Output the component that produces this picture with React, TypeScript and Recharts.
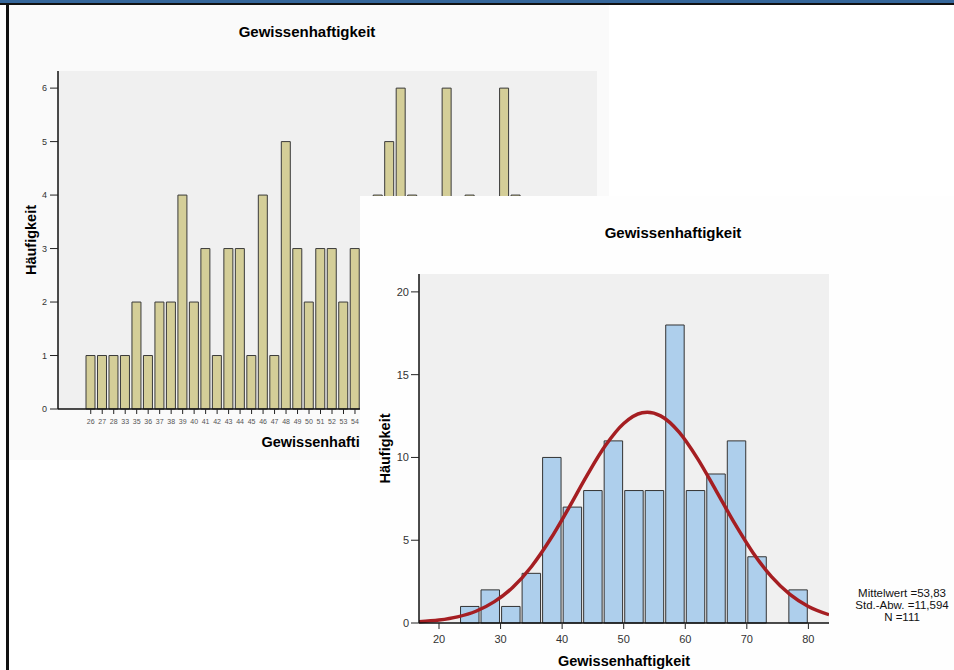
import {
  Bar,
  BarChart,
  CartesianGrid,
  ComposedChart,
  Line,
  XAxis,
  YAxis,
} from 'recharts'

const FONT = 'Arial, "Liberation Sans", sans-serif'
const TITLE = 'Gewissenhaftigkeit'
const Y_LABEL = 'Häufigkeit'

// Balkendiagramm (hinten): Häufigkeit je Wert
const scoreValues = [
  '26', '27', '28', '33', '35', '36', '37', '38', '39', '40', '41', '42', '43', '44', '45',
  '46', '47', '48', '49', '50', '51', '52', '53', '54', '55', '56', '57', '58', '59', '60',
  '61', '62', '63', '64', '65', '66', '67', '68', '69', '71', '72', '78', '80',
]
const scoreCounts = [
  1, 1, 1, 1, 2, 1, 2, 2, 4, 2, 3, 1, 3, 3, 1,
  4, 1, 5, 3, 2, 3, 3, 2, 3, 1, 4, 5, 6, 4, 3,
  1, 6, 1, 4, 2, 3, 6, 4, 1, 2, 2, 1, 1,
]
const countTicks = [0, 1, 2, 3, 4, 5, 6]

// Histogramm (vorne)
const binCenters = [
  25, 28.33, 31.67, 35, 38.33, 41.67, 45, 48.33, 51.67, 55, 58.33, 61.67, 65, 68.33, 71.67, 75, 78.33,
]
const binCounts = [1, 2, 1, 3, 10, 7, 8, 11, 8, 8, 18, 8, 9, 11, 4, 0, 2]
const curveX = [
  16.75, 20, 23, 26, 29, 32, 35, 38, 41, 44, 47, 50, 53, 53.83, 56, 59, 62, 65, 68, 71, 74, 77, 80, 83.35,
]
const curveY = [
  0.08, 0.18, 0.37, 0.71, 1.29, 2.16, 3.4, 5.01, 6.9, 8.89, 10.7, 12.05, 12.7, 12.73, 12.51, 11.53,
  9.93, 8.0, 6.03, 4.25, 2.8, 1.73, 1.0, 0.5,
]
const histDomain: [number, number] = [16.75, 83.35]
const histXTicks = [20, 30, 40, 50, 60, 70, 80]
const histYTicks = [0, 5, 10, 15, 20]
const statLines = ['Mittelwert =53,83', 'Std.-Abw. =11,594', 'N =111']

const barRows = scoreValues.map((value, i) => ({ value, count: scoreCounts[i] }))
const binRows = binCenters.map((x, i) => ({ x, count: binCounts[i] }))
const curveRows = curveX.map((x, i) => ({ x, y: curveY[i] }))

const axisLabelStyle = { fontFamily: FONT, fontWeight: 'bold', fontSize: 14.5, fill: '#000' }

export default function App() {
  return (
    <div
      style={{
        position: 'absolute',
        left: 0,
        top: 0,
        width: 954,
        height: 670,
        overflow: 'hidden',
        background: '#fff',
        fontFamily: FONT,
      }}
    >
      {/* hinteres Diagramm */}
      <div style={{ position: 'absolute', left: 9, top: 5, width: 600, height: 455, background: '#fafafa' }} />
      <div
        style={{
          position: 'absolute',
          left: 0,
          top: 23,
          width: 614,
          textAlign: 'center',
          fontSize: 15,
          fontWeight: 'bold',
          lineHeight: '18px',
        }}
      >
        {TITLE}
      </div>
      <div style={{ position: 'absolute', left: 0, top: 0 }}>
        <BarChart
          width={620}
          height={460}
          data={barRows}
          margin={{ top: 71, right: 23, bottom: 0, left: 0 }}
        >
          <CartesianGrid fill="#f0f0f0" horizontal={false} vertical={false} />
          <XAxis
            dataKey="value"
            interval={0}
            height={51}
            padding={{ left: 27, right: 18 }}
            tickSize={5}
            tickMargin={5}
            tick={{ fontSize: 7, fill: '#555', fontFamily: FONT }}
            tickLine={{ stroke: '#222' }}
            axisLine={{ stroke: '#111', strokeWidth: 1.5 }}
            label={{ value: TITLE, position: 'insideBottom', offset: 13, style: axisLabelStyle }}
          />
          <XAxis xAxisId="top" orientation="top" height={0} tick={false} tickLine={false} axisLine={{ stroke: '#8a8a8a' }} />
          <YAxis
            type="number"
            domain={[0, 6.32]}
            ticks={countTicks}
            width={58}
            tickSize={8}
            tickMargin={3}
            tick={{ fontSize: 9, fill: '#333', fontFamily: FONT }}
            tickLine={{ stroke: '#222' }}
            axisLine={{ stroke: '#111', strokeWidth: 1.5 }}
            label={{
              value: Y_LABEL,
              angle: -90,
              position: 'insideLeft',
              offset: 31,
              style: { ...axisLabelStyle, textAnchor: 'middle' },
            }}
          />
          <YAxis yAxisId="right" orientation="right" width={0} tick={false} tickLine={false} axisLine={{ stroke: '#8a8a8a' }} />
          <Bar dataKey="count" barSize={9} fill="#d4ce98" stroke="#3a3a3a" strokeWidth={1} isAnimationActive={false} />
        </BarChart>
      </div>

      {/* vorderes Diagramm: Histogramm mit Normalverteilungskurve */}
      <div
        style={{
          position: 'absolute',
          left: 360,
          top: 196,
          width: 594,
          height: 474,
          background: '#fefefe',
          overflow: 'hidden',
        }}
      >
        <div
          style={{
            position: 'absolute',
            left: 0,
            top: 28,
            width: 626,
            textAlign: 'center',
            fontSize: 15,
            fontWeight: 'bold',
            lineHeight: '18px',
          }}
        >
          {TITLE}
        </div>
        <ComposedChart
          width={594}
          height={474}
          data={binRows}
          margin={{ top: 78, right: 125, bottom: 0, left: 0 }}
        >
          <CartesianGrid fill="#f0f0f0" horizontal={false} vertical={false} />
          <XAxis
            dataKey="x"
            type="number"
            domain={histDomain}
            allowDataOverflow
            ticks={histXTicks}
            height={47}
            tickSize={6}
            tickMargin={6}
            tick={{ fontSize: 11, fill: '#333', fontFamily: FONT }}
            tickLine={{ stroke: '#222' }}
            axisLine={{ stroke: '#111', strokeWidth: 1.5 }}
            label={{ value: TITLE, position: 'insideBottom', offset: 4, style: axisLabelStyle }}
          />
          <XAxis xAxisId="curve" dataKey="x" type="number" domain={histDomain} allowDataOverflow hide />
          <XAxis xAxisId="top" orientation="top" height={0} tick={false} tickLine={false} axisLine={{ stroke: '#8a8a8a' }} />
          <YAxis
            type="number"
            domain={[0, 21.08]}
            ticks={histYTicks}
            width={59}
            tickSize={8}
            tickMargin={2}
            tick={{ fontSize: 11, fill: '#333', fontFamily: FONT }}
            tickLine={{ stroke: '#222' }}
            axisLine={{ stroke: '#111', strokeWidth: 1.5 }}
            label={{
              value: Y_LABEL,
              angle: -90,
              position: 'insideLeft',
              offset: 25,
              style: { ...axisLabelStyle, textAnchor: 'middle' },
            }}
          />
          <YAxis yAxisId="right" orientation="right" width={0} tick={false} tickLine={false} axisLine={{ stroke: '#8a8a8a' }} />
          <Bar dataKey="count" barSize={20.5} fill="#aecfec" stroke="#333" strokeWidth={1} isAnimationActive={false} />
          <Line
            xAxisId="curve"
            data={curveRows}
            dataKey="y"
            type="monotone"
            dot={false}
            stroke="#a51e22"
            strokeWidth={3.5}
            isAnimationActive={false}
          />
        </ComposedChart>
        <div
          style={{
            position: 'absolute',
            left: 442,
            top: 391,
            width: 200,
            textAlign: 'center',
            fontSize: 11.5,
            lineHeight: '12px',
            color: '#111',
            whiteSpace: 'nowrap',
          }}
        >
          {statLines.map((line) => (
            <div key={line}>{line}</div>
          ))}
        </div>
      </div>

      {/* Fensterrahmen */}
      <div style={{ position: 'absolute', left: 0, top: 0, width: 954, height: 3, background: '#35669a' }} />
      <div style={{ position: 'absolute', left: 0, top: 3, width: 954, height: 2, background: '#111' }} />
      <div style={{ position: 'absolute', left: 6, top: 3, width: 3, height: 667, background: '#111' }} />
    </div>
  )
}
